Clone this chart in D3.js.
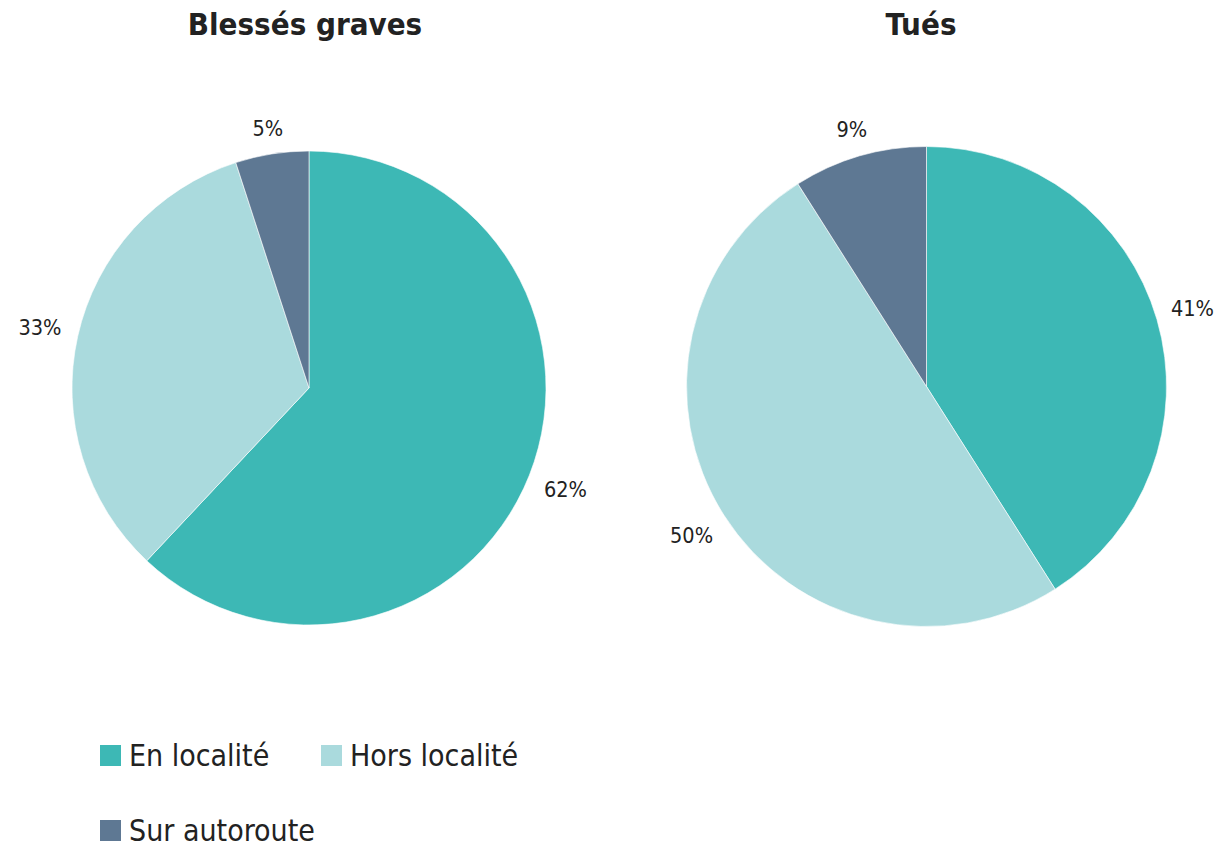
<!DOCTYPE html>
<html>
<head>
<meta charset="utf-8">
<script src="https://cdn.jsdelivr.net/npm/d3@7"></script>
<style>
  html, body { margin: 0; padding: 0; background: #fff; }
  svg { display: block; }
  text { font-family: "DejaVu Sans Condensed", "Liberation Sans Narrow", sans-serif; fill: #222; }
  .title { font-family: "DejaVu Sans Condensed", "DejaVu Sans", sans-serif; font-stretch: condensed; }
</style>
</head>
<body>
<svg id="chart" width="1217" height="847"></svg>
<script>
// Road-accident victims by location type
const categories = ["En localité", "Hors localité", "Sur autoroute"];
const colors = ["#3DB8B5", "#AADADD", "#5E7893"];
const titles = ["Blessés graves", "Tués"];
const blessesValues = [62, 33, 5];
const tuesValues = [41, 50, 9];

const svg = d3.select("#chart");
const W = +svg.attr("width");

const pies = [
  { title: titles[0], values: blessesValues, cx: 309, cy: 388, r: 237, titleX: 305 },
  { title: titles[1], values: tuesValues, cx: 926.5, cy: 386.5, r: 240, titleX: 921 }
];

const color = d3.scaleOrdinal().domain(categories).range(colors);
const pie = d3.pie().sort(null).value(d => d.value);

const labelSize = 21.5;
const labelGap = 16;

pies.forEach(p => {
  const data = categories.map((c, i) => ({ cat: c, value: p.values[i] }));
  const arcs = pie(data);
  const arc = d3.arc().innerRadius(0).outerRadius(p.r);

  svg.append("text")
    .attr("class", "title")
    .attr("x", p.titleX)
    .attr("y", 35)
    .attr("text-anchor", "middle")
    .attr("font-size", 31)
    .attr("font-weight", "bold")
    .text(p.title);

  const g = svg.append("g").attr("transform", `translate(${p.cx},${p.cy})`);

  g.selectAll("path")
    .data(arcs)
    .join("path")
    .attr("d", arc)
    .attr("fill", d => color(d.data.cat))
    .attr("stroke", "#fff")
    .attr("stroke-width", 0.6);

  // Labels sit outside the rim: the nearest edge of each label box
  // is kept a fixed gap away from the circle, and stays inside the page.
  const labels = g.selectAll("text.lbl")
    .data(arcs)
    .join("text")
    .attr("class", "lbl")
    .attr("text-anchor", "middle")
    .attr("dy", "0.35em")
    .attr("font-size", labelSize)
    .text(d => d.data.value + "%");

  labels.each(function(d) {
    const bb = this.getBBox();
    const a = (d.startAngle + d.endAngle) / 2;
    const s = Math.sin(a), c = Math.cos(a);
    const ext = Math.abs(s) * bb.width / 2 + Math.abs(c) * labelSize * 0.36;
    const dist = p.r + labelGap + ext;
    let x = s * dist;
    const maxX = W - 3 - p.cx - bb.width / 2;
    const minX = 3 - p.cx + bb.width / 2;
    x = Math.max(minX, Math.min(maxX, x));
    d3.select(this).attr("transform", `translate(${x},${-c * dist})`);
  });
});

// Legend
const legendItems = [
  { cat: categories[0], x: 100, y: 745 },
  { cat: categories[1], x: 321, y: 745 },
  { cat: categories[2], x: 100, y: 820 }
];
const lg = svg.append("g");
legendItems.forEach(it => {
  lg.append("rect")
    .attr("x", it.x).attr("y", it.y)
    .attr("width", 21).attr("height", 21)
    .attr("fill", color(it.cat));
  lg.append("text")
    .attr("x", it.x + 29)
    .attr("y", it.y + 21)
    .attr("font-size", 30)
    .text(it.cat);
});
</script>
</body>
</html>
